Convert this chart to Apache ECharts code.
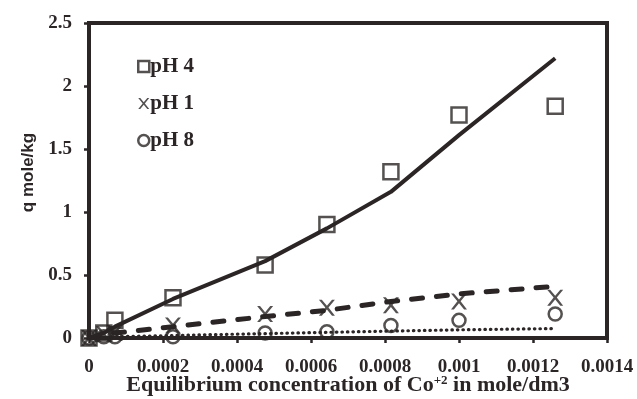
<!DOCTYPE html>
<html><head><meta charset="utf-8">
<script src="https://cdn.jsdelivr.net/npm/echarts@6/dist/echarts.min.js"></script>
<style>html,body{margin:0;padding:0;background:#fff}#c{width:637px;height:399px}</style>
</head><body><div id="c"></div>
<script>
var xConc = [0, 0.00004, 0.00007, 0.000227, 0.000476, 0.000643, 0.000816, 0.001, 0.00126];
var pH4Data = [0, 0.04, 0.14, 0.32, 0.58, 0.90, 1.32, 1.77, 1.84];
var pH4Fit  = [0, 0.04, 0.09, 0.31, 0.61, 0.87, 1.16, 1.61, 2.22];
var pH1Data = [0, 0.03, 0.04, 0.10, 0.19, 0.24, 0.26, 0.29, 0.32];
var pH1Fit  = [0, 0.02, 0.04, 0.09, 0.17, 0.22, 0.29, 0.35, 0.41];
var pH8Data = [0, 0.01, 0.01, 0.01, 0.04, 0.05, 0.10, 0.14, 0.19];
var pH8Fit  = [0, 0.005, 0.01, 0.02, 0.035, 0.045, 0.055, 0.065, 0.075];
var xTickLabels = ['0','0.0002','0.0004','0.0006','0.0008','0.001','0.0012','0.0014'];
var yTickLabels = ['0','0.5','1','1.5','2','2.5'];
var seriesNames = ['pH 4','pH 1','pH 8'];

var INK = '#2b2526';
function pairs(v){ return xConc.map(function(x,i){ return [x, v[i]]; }); }
var crossPath = 'path://M0,0 L1.8,0 L5,3.8 L8.2,0 L10,0 L6,4.9 L10,10 L8.2,10 L5,6.1 L1.8,10 L0,10 L4,4.9 Z';

var chart = echarts.init(document.getElementById('c'));
chart.setOption({
  animation:false,
  grid:{left:89,right:30,top:23,bottom:61,show:true,borderColor:INK,borderWidth:4,containLabel:false,outerBoundsMode:'none'},
  legend:{
    orient:'vertical', left:132, top:51, itemGap:16, itemWidth:11, itemHeight:11,
    data:[
      {name:seriesNames[0], icon:'rect', itemStyle:{color:'#fff',borderColor:INK,borderWidth:2.5}},
      {name:seriesNames[1], icon:crossPath, itemStyle:{color:INK,borderWidth:0}},
      {name:seriesNames[2], icon:'circle', itemStyle:{color:'#fff',borderColor:INK,borderWidth:2.5}}
    ],
    textStyle:{fontFamily:'Liberation Serif',fontWeight:'bold',fontSize:21,lineHeight:21,color:INK,padding:[0,0,0,-4]}
  },
  xAxis:{
    type:'value', min:0, max:0.0014, interval:0.0002,
    name:'{a|Equilibrium concentration of Co}{s|+2}{a| in mole/dm3}',
    nameLocation:'middle', nameGap:36, nameMoveOverlap:false,
    nameTextStyle:{rich:{a:{fontFamily:'Liberation Serif',fontWeight:'bold',fontSize:22,color:INK},
                         s:{fontFamily:'Liberation Serif',fontWeight:'bold',fontSize:13,color:INK,verticalAlign:'top',padding:[0,0,10,0]}}},
    axisLine:{lineStyle:{color:INK,width:4}},
    axisTick:{show:true,length:5,lineStyle:{color:INK,width:2.5}},
    splitLine:{show:false},
    axisLabel:{margin:20,fontFamily:'Liberation Serif',fontWeight:'bold',fontSize:19,color:INK,
      formatter:function(v){ return xTickLabels[Math.round(v/0.0002)]; }}
  },
  yAxis:{
    type:'value', min:0, max:2.5, interval:0.5,
    name:'q mole/kg', nameLocation:'middle', nameGap:52, nameMoveOverlap:false,
    nameTextStyle:{fontFamily:'Liberation Sans',fontWeight:'bold',fontSize:17,color:INK,padding:[0,0,0,16]},
    axisLine:{show:true,lineStyle:{color:INK,width:4}},
    axisTick:{show:true,length:5,lineStyle:{color:INK,width:2.5}},
    splitLine:{show:false},
    axisLabel:{margin:17,fontFamily:'Liberation Serif',fontWeight:'bold',fontSize:19,color:INK,
      formatter:function(v){ return yTickLabels[Math.round(v/0.5)]; }}
  },
  series:[
    {type:'line',data:pairs(pH4Fit),showSymbol:false,lineStyle:{color:INK,width:4},z:2,silent:true},
    {type:'line',data:pairs(pH1Fit),showSymbol:false,lineStyle:{color:INK,width:5,type:[11,14],cap:'round'},z:2,silent:true},
    {type:'line',data:pairs(pH8Fit),showSymbol:false,lineStyle:{color:INK,width:3.2,type:[0.5,5],cap:'round'},z:2,silent:true},
    {name:seriesNames[0],type:'scatter',data:pairs(pH4Data),symbol:'rect',symbolSize:15,
      itemStyle:{color:'rgba(255,255,255,0)',borderColor:INK,borderWidth:2.5},z:3},
    {name:seriesNames[1],type:'scatter',data:pairs(pH1Data),symbol:crossPath,symbolSize:16,
      itemStyle:{color:INK},z:3},
    {name:seriesNames[2],type:'scatter',data:pairs(pH8Data),symbol:'circle',symbolSize:13,
      itemStyle:{color:'rgba(255,255,255,0)',borderColor:INK,borderWidth:2.5},z:3}
  ]
});
</script></body></html>
